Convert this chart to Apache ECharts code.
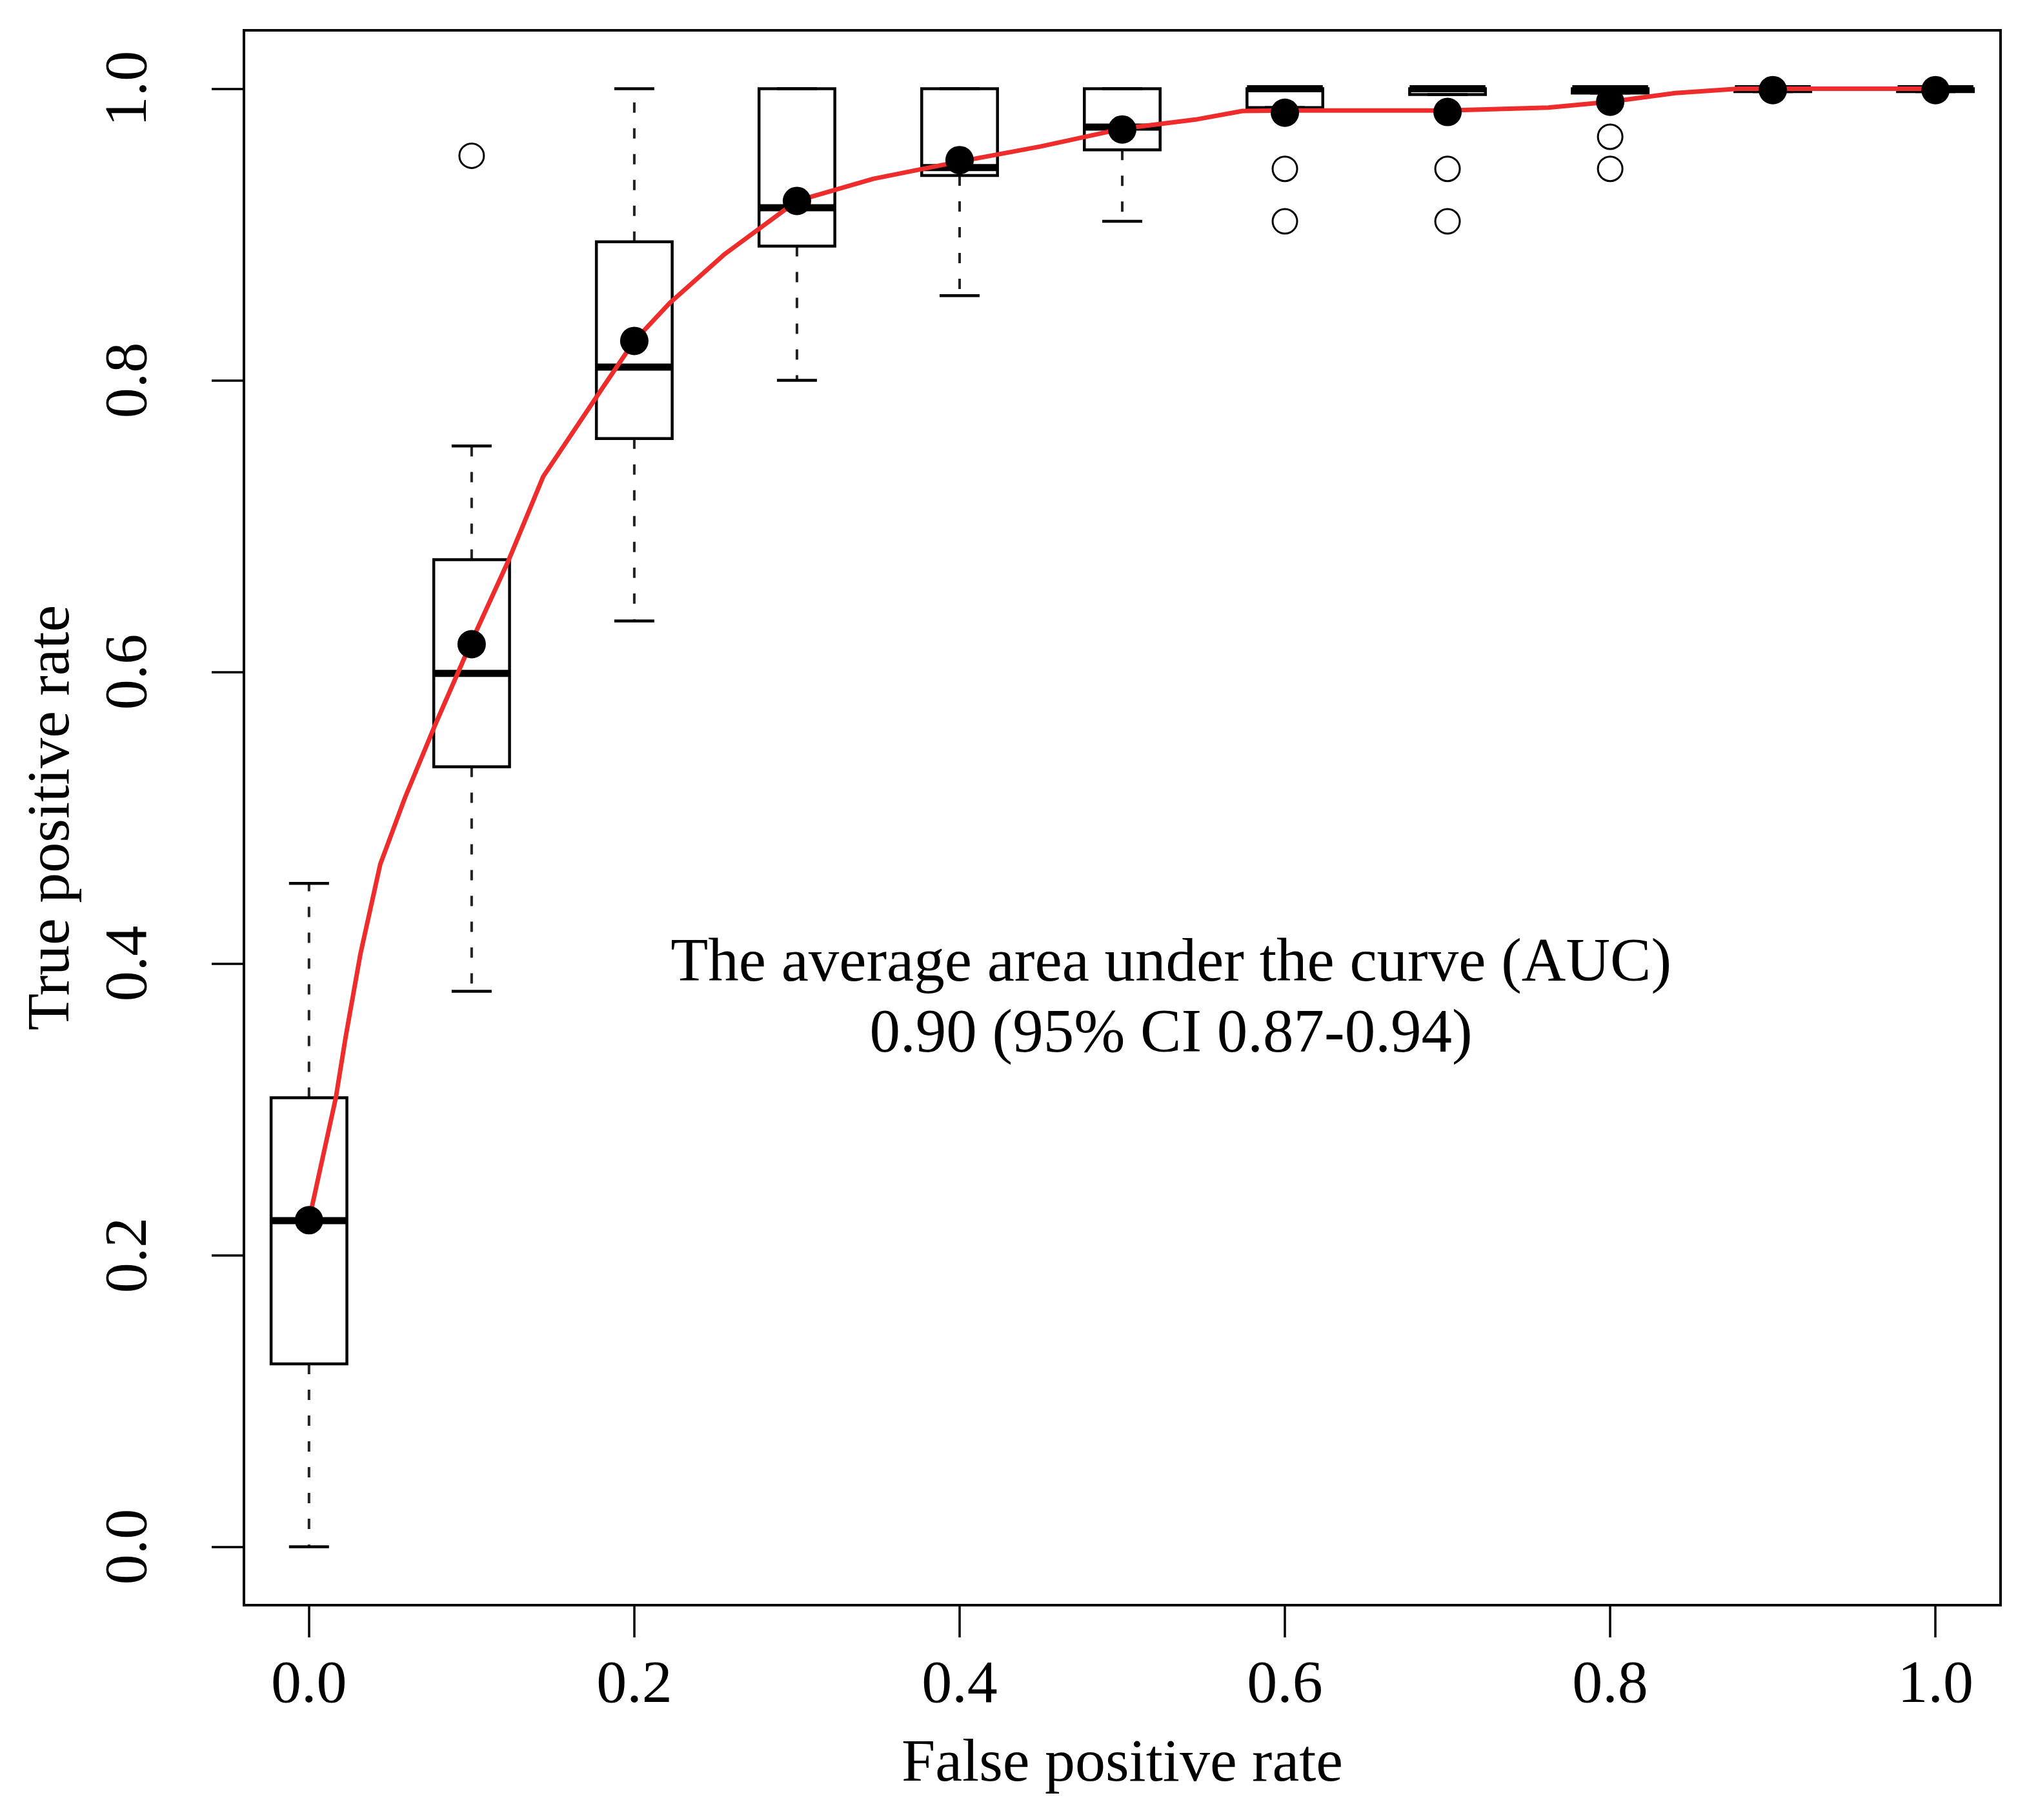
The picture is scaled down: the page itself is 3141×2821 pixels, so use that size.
<!DOCTYPE html>
<html>
<head>
<meta charset="utf-8">
<script src="https://cdn.jsdelivr.net/npm/echarts/dist/echarts.min.js"></script>
<style>
  html, body { margin: 0; padding: 0; background: #fff; }
  #chart { width: 3141px; height: 2821px; }
</style>
</head>
<body>
<div id="chart"></div>
<script>
// box positions along the false positive rate axis
const fprPos = [0, 0.1, 0.2, 0.3, 0.4, 0.5, 0.6, 0.7, 0.8, 0.9, 1.0];
// box statistics per position (true positive rate)
const whiskerLow  = [0.000, 0.381, 0.635, 0.800, 0.858, 0.909, 0.987, 0.996, 0.997, 0.998, 0.998];
const boxLow      = [0.1255, 0.535, 0.760, 0.892, 0.9405, 0.958, 0.987, 0.996, 0.997, 0.998, 0.998];
const boxMedian   = [0.2237, 0.599, 0.809, 0.9183, 0.9459, 0.9736, 1.0, 1.0, 1.0, 1.0, 1.0];
const boxHigh     = [0.308, 0.677, 0.895, 1.0, 1.0, 1.0, 1.0, 1.0, 1.0, 1.0, 1.0];
const whiskerHigh = [0.455, 0.755, 1.0, 1.0, 1.0, 1.0, 1.0, 1.0, 1.0, 1.0, 1.0];
const meanTpr     = [0.224, 0.619, 0.827, 0.923, 0.951, 0.972, 0.9835, 0.984, 0.991, 0.999, 0.999];

// outliers
const outlierX = [0.1, 0.6, 0.6, 0.7, 0.7, 0.8, 0.8];
const outlierY = [0.954, 0.945, 0.909, 0.945, 0.909, 0.967, 0.945];

// averaged ROC curve (red)
const rocX = [0, 0.0165, 0.0226, 0.0317, 0.0438, 0.059, 0.0773, 0.1, 0.1229, 0.144, 0.1806,
              0.2, 0.2216, 0.2558, 0.3, 0.347, 0.4, 0.4496, 0.5, 0.545, 0.574, 0.6, 0.7, 0.762, 0.8, 0.84, 0.879, 0.9, 1.0];
const rocY = [0.224, 0.308, 0.350, 0.407, 0.468, 0.5137, 0.563, 0.621, 0.677, 0.734, 0.795,
              0.827, 0.8528, 0.8867, 0.923, 0.9382, 0.950, 0.9603, 0.9725, 0.9788, 0.9847, 0.985, 0.985, 0.987, 0.991, 0.997, 1.0, 1.0, 1.0];

const tickVals = [0, 0.2, 0.4, 0.6, 0.8, 1.0];
const noteLines = ['The average area under the curve (AUC)', '0.90 (95% CI 0.87-0.94)'];
const notePos = [0.53, 0.375];

const AX_MIN = -0.04, AX_MAX = 1.04;
const FONT = 'Liberation Serif';
const FS = 94;

const boxData = fprPos.map((x, i) => [x, whiskerLow[i], boxLow[i], boxMedian[i], boxHigh[i], whiskerHigh[i]]);
const halfBox = 0.0233;
const halfCap = 0.0123;

function renderBox(params, api) {
  const x = api.value(0);
  const lo = api.value(1), q1 = api.value(2), med = api.value(3), q3 = api.value(4), hi = api.value(5);
  const pL = api.coord([x - halfBox, 0])[0];
  const pR = api.coord([x + halfBox, 0])[0];
  const cL = api.coord([x - halfCap, 0])[0];
  const cR = api.coord([x + halfCap, 0])[0];
  const cx = api.coord([x, 0])[0];
  const yLo = api.coord([x, lo])[1];
  const y1 = api.coord([x, q1])[1];
  const yM = api.coord([x, med])[1];
  const y3 = api.coord([x, q3])[1];
  const yHi = api.coord([x, hi])[1];
  const thin = { stroke: '#000', lineWidth: 4.5, fill: null };
  const dash = { stroke: '#222', lineWidth: 4, lineDash: [16, 24] };
  const kids = [
    { type: 'line', shape: { x1: cx, y1: y3, x2: cx, y2: yHi }, style: dash },
    { type: 'line', shape: { x1: cx, y1: y1, x2: cx, y2: yLo }, style: dash },
    { type: 'line', shape: { x1: cL, y1: yHi, x2: cR, y2: yHi }, style: thin },
    { type: 'line', shape: { x1: cL, y1: yLo, x2: cR, y2: yLo }, style: thin },
    { type: 'rect', shape: { x: pL, y: y3, width: pR - pL, height: y1 - y3 }, style: thin },
    { type: 'line', shape: { x1: pL, y1: yM, x2: pR, y2: yM }, style: { stroke: '#000', lineWidth: 11 } }
  ];
  return { type: 'group', children: kids };
}

const chart = echarts.init(document.getElementById('chart'));

const axisCommon = {
  type: 'value', min: AX_MIN, max: AX_MAX,
  nameLocation: 'middle',
  nameTextStyle: { fontFamily: FONT, fontSize: FS, color: '#000' },
  axisLine: { show: true, onZero: false, lineStyle: { color: '#000', width: 4 } },
  splitLine: { show: false },
  axisTick: { show: true, inside: false, length: 50, lineStyle: { color: '#000', width: 3.5 }, customValues: tickVals }
};

chart.setOption({
  backgroundColor: '#fff',
  animation: false,
  grid: {
    left: 378, right: 41, top: 47, bottom: 333,
    show: true, borderColor: '#000', borderWidth: 4, backgroundColor: 'transparent'
  },
  xAxis: Object.assign({}, axisCommon, {
    name: 'False positive rate', nameGap: 200,
    axisLabel: {
      customValues: tickVals, margin: 78,
      formatter: v => v.toFixed(1),
      fontFamily: FONT, fontSize: FS, color: '#000'
    }
  }),
  yAxis: Object.assign({}, axisCommon, {
    name: 'True positive rate', nameGap: 250,
    axisLabel: {
      customValues: tickVals, margin: 130, rotate: 90,
      formatter: v => v.toFixed(1),
      fontFamily: FONT, fontSize: FS, color: '#000'
    }
  }),
  series: [
    {
      type: 'custom',
      renderItem: renderBox,
      data: boxData,
      encode: { x: 0, y: [1, 2, 3, 4, 5] },
      z: 2
    },
    {
      type: 'scatter',
      data: outlierX.map((x, i) => [x, outlierY[i]]),
      symbol: 'circle', symbolSize: 38,
      itemStyle: { color: 'rgba(255,255,255,0)', borderColor: '#000', borderWidth: 3, opacity: 1 },
      z: 3
    },
    {
      type: 'line',
      data: rocX.map((x, i) => [x, rocY[i]]),
      showSymbol: false, smooth: false,
      lineStyle: { color: '#EE2C2C', width: 7, join: 'round' },
      z: 4
    },
    {
      type: 'scatter',
      data: fprPos.map((x, i) => [x, meanTpr[i]]),
      symbol: 'circle', symbolSize: 44,
      itemStyle: { color: '#000', opacity: 1 },
      z: 5
    }
  ]
});

// annotation placed through the axis scales
const p = chart.convertToPixel({ gridIndex: 0 }, notePos);
chart.setOption({
  graphic: [{
    type: 'text', x: p[0], y: p[1], z: 10,
    style: {
      text: noteLines.join('\n'),
      font: '95px "' + FONT + '"',
      fill: '#000', align: 'center', verticalAlign: 'middle', lineHeight: 110
    }
  }]
});
</script>
</body>
</html>
